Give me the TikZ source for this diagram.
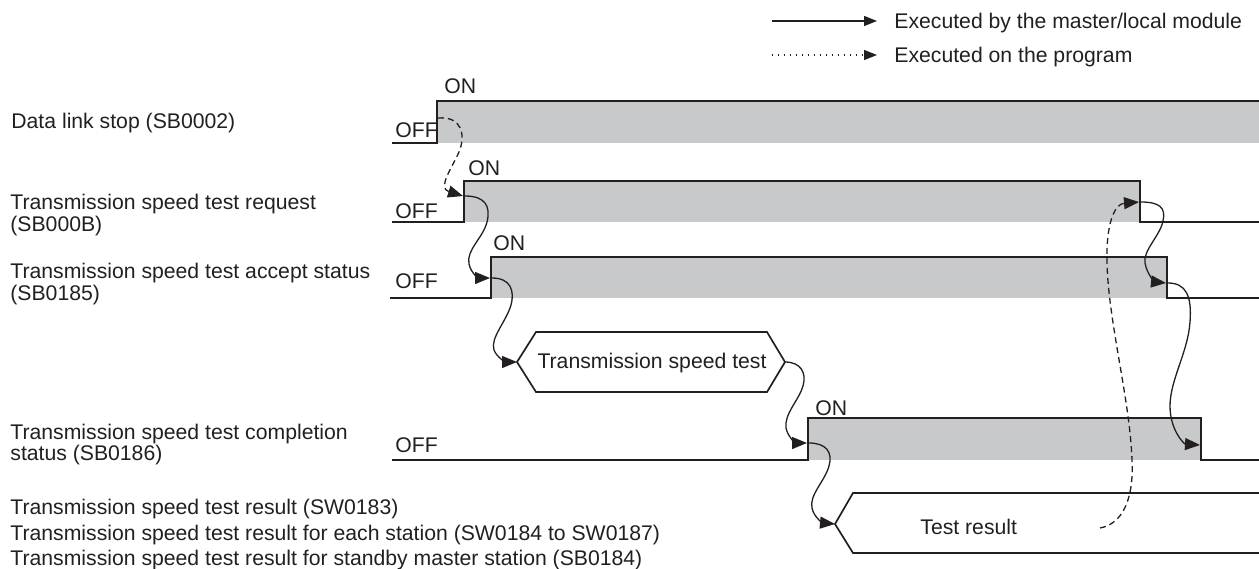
\documentclass[tikz,border=0pt]{standalone}
\usepackage{fontspec}
\setmainfont{Liberation Sans}
\usetikzlibrary{arrows.meta}
\definecolor{sgray}{RGB}{200,201,203}
\definecolor{lc}{RGB}{35,31,32}
\definecolor{tc}{RGB}{35,31,32}
\begin{document}
\begin{tikzpicture}[x=0.5pt,y=-0.5pt,
  font=\fontsize{10.6}{12.7}\selectfont,
  sig/.style={line width=0.85pt, draw=lc, line join=miter},
  flow/.style={line width=0.65pt, draw=lc, -{Triangle[length=7.5pt,width=6pt]}},
  prog/.style={flow, dash pattern=on 3pt off 2pt},
  dotline/.style={line width=0.6pt, draw=lc, dash pattern=on 0.7pt off 2.3pt, -{Triangle[length=6.5pt,width=5pt]}},
  legline/.style={line width=0.6pt, draw=lc, -{Triangle[length=6.5pt,width=5pt]}},
  lbl/.style={anchor=base west, inner sep=0pt, text=tc}]
\useasboundingbox (0,0) rectangle (1259,568);

% ---------- legend ----------
\coordinate (lg1a) at (772,21);
\coordinate (lg1b) at (877,21);
\coordinate (lg2a) at (772,55);
\coordinate (lg2b) at (877,55);
\draw[legline] (lg1a) -- (lg1b);
\draw[dotline] (lg2a) -- (lg2b);
\node[lbl] (lgt1) at (894,28) {Executed by the master/local module};
\node[lbl] (lgt2) at (894,62) {Executed on the program};

% ---------- left labels ----------
\node[lbl] (n1) at (11,128) {Data link stop (SB0002)};
\node[lbl] (n2a) at (10,209) {Transmission speed test request};
\node[lbl] (n2b) at (10,231) {(SB000B)};
\node[lbl] (n3a) at (10,278) {Transmission speed test accept status};
\node[lbl] (n3b) at (10,300) {(SB0185)};
\node[lbl] (n5a) at (10,439) {Transmission speed test completion};
\node[lbl] (n5b) at (10,460) {status (SB0186)};
\node[lbl] (n6a) at (10,514) {Transmission speed test result (SW0183)};
\node[lbl] (n6b) at (10,540) {Transmission speed test result for each station (SW0184 to SW0187)};
\node[lbl] (n6c) at (10,565) {Transmission speed test result for standby master station (SB0184)};

% ---------- signal 1: data link stop ----------
\fill[sgray] (437,101) rectangle (1259,143);
\draw[sig] (392,143) -- (437,143) -- (437,101) -- (1259,101);
\node[lbl] (off1) at (395,137) {OFF};
\node[lbl] (on1) at (444,93) {ON};

% ---------- signal 2: test request ----------
\fill[sgray] (464,181) rectangle (1140,222);
\draw[sig] (392,222) -- (464,222) -- (464,181) -- (1140,181) -- (1140,222) -- (1259,222);
\node[lbl] (off2) at (395,218) {OFF};
\node[lbl] (on2) at (468,175) {ON};

% ---------- signal 3: accept status ----------
\fill[sgray] (491,257) rectangle (1167,298);
\draw[sig] (390,298) -- (491,298) -- (491,257) -- (1167,257) -- (1167,298) -- (1259,298);
\node[lbl] (off3) at (395,288) {OFF};
\node[lbl] (on3) at (493,250) {ON};

% ---------- transmission speed test block ----------
\draw[sig] (517,362) -- (536,332) -- (767,332) -- (785,362) -- (767,392) -- (536,392) -- cycle;
\node[anchor=base, inner sep=0pt, text=tc] (tst) at (652,368) {Transmission speed test};

% ---------- signal 5: completion status ----------
\fill[sgray] (808,418) rectangle (1201,460);
\draw[sig] (392,460) -- (808,460) -- (808,418) -- (1201,418) -- (1201,460) -- (1259,460);
\node[lbl] (off5) at (395,452) {OFF};
\node[lbl] (on5) at (815,415) {ON};

% ---------- test result ----------
\draw[sig] (1259,493) -- (853,493) -- (835,524) -- (853,553) -- (1259,553);
\node[lbl] (tres) at (920,534) {Test result};

% ---------- connector points ----------
\coordinate (s1r) at (438,118);
\coordinate (s2r) at (463,196);
\coordinate (s2rs) at (465,196);
\coordinate (s3r) at (490,278);
\coordinate (s3rs) at (492,278);
\coordinate (hexL) at (517,362);
\coordinate (hexR) at (785,362);
\coordinate (s5r) at (807,443);
\coordinate (s5rs) at (809,443);
\coordinate (resL) at (835,524);
\coordinate (resP) at (1100,528);
\coordinate (s2f) at (1139,202);
\coordinate (s2fs) at (1141,202);
\coordinate (s3f) at (1166,283);
\coordinate (s3fs) at (1168,283);
\coordinate (s5f) at (1200,445);

% ---------- connectors ----------
\draw[prog] (s1r) .. controls (462,116) and (466,135) .. (459,152)
   .. controls (452,168) and (437,188) .. (s2r);
\draw[flow] (s2rs) .. controls (485,196) and (491,206) .. (487,222)
   .. controls (483,238) and (466,250) .. (469,264)
   .. controls (471,274) and (480,278) .. (s3r);
\draw[flow] (s3rs) .. controls (510,278) and (515,290) .. (511,305)
   .. controls (506,322) and (490,338) .. (494,350)
   .. controls (497,358) and (507,362) .. (hexL);
\draw[flow] (hexR) .. controls (800,362) and (807,372) .. (803,386)
   .. controls (799,400) and (784,414) .. (786,428)
   .. controls (788,438) and (797,443) .. (s5r);
\draw[flow] (s5rs) .. controls (826,443) and (833,452) .. (829,466)
   .. controls (825,481) and (809,495) .. (812,508)
   .. controls (814,518) and (824,523) .. (resL);
\draw[prog] (resP) .. controls (1122,524) and (1134,500) .. (1132,460)
   .. controls (1130,400) and (1108,320) .. (1107,262)
   .. controls (1106,225) and (1114,204) .. (s2f);
\draw[flow] (s2fs) .. controls (1160,202) and (1166,208) .. (1163,221)
   .. controls (1160,236) and (1143,250) .. (1145,263)
   .. controls (1147,275) and (1156,282) .. (s3f);
\draw[flow] (s3fs) .. controls (1186,283) and (1192,296) .. (1190,322)
   .. controls (1188,352) and (1170,380) .. (1170,406)
   .. controls (1170,430) and (1184,444) .. (s5f);
\end{tikzpicture}
\end{document}
